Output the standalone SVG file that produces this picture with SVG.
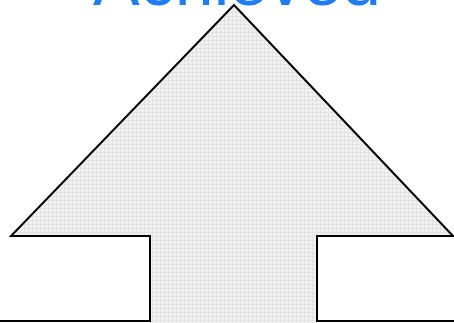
<svg xmlns="http://www.w3.org/2000/svg" width="454" height="323" viewBox="0 0 454 323">
<defs>
<pattern id="grid" width="4" height="4" patternUnits="userSpaceOnUse">
<rect width="4" height="4" fill="#f1f1f1"/>
<path d="M0 0.5H4M0.5 0V4" stroke="#e3e3e3" stroke-width="1" fill="none"/>
</pattern>
</defs>
<style>
.outline{fill:none;stroke:#000;stroke-width:2;stroke-linejoin:miter}
.title{font-family:"Liberation Sans",Arial,sans-serif;font-size:70px;fill:#1f7cf2;text-anchor:middle}
</style>
<rect width="454" height="323" fill="#fff"/>
<g id="arrow">
<polygon points="234,5 11,236 150,236 150,323 317,323 317,236 454,236" fill="url(#grid)"/>
<path class="outline" d="M0 321H150V236H11L234,5L453,236H317V321H454"/>
</g>
<g id="label">
<text class="title" x="237" y="5">Achieved</text>
</g>
</svg>
